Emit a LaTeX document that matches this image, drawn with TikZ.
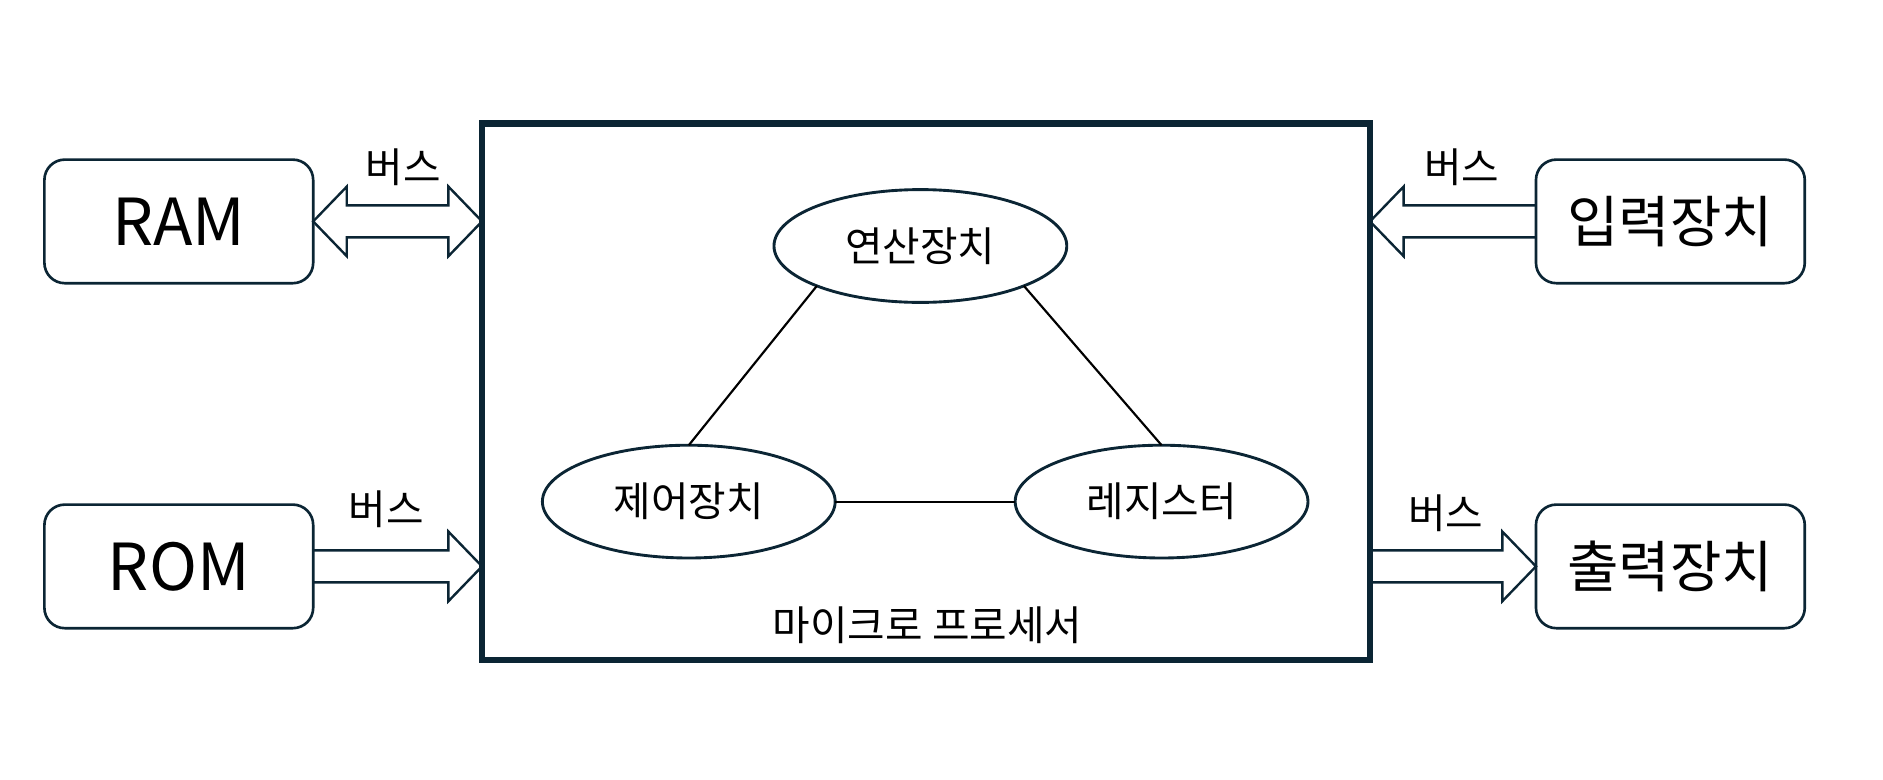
\documentclass[tikz,border=0pt]{standalone}
\usepackage{fontspec}
\setmainfont{Noto Sans CJK KR}
\usetikzlibrary{calc,shapes.geometric}
\definecolor{navy}{RGB}{11,37,52}
\begin{document}
\begin{tikzpicture}[x=0.5pt,y=-0.5pt,
  dev/.style={draw=navy,line width=1.1pt,rounded corners=8.5pt,minimum width=112pt,minimum height=51.5pt,inner sep=0pt,outer sep=0pt},
  latin/.style={font=\fontsize{27}{30}\selectfont},
  hangul/.style={font=\fontsize{23.3}{28}\selectfont},
  unit/.style={ellipse,draw=navy,line width=1.2pt,minimum width=122pt,minimum height=47pt,inner sep=0pt,outer sep=0pt,font=\fontsize{17}{20}\selectfont},
  mpbox/.style={draw=navy,line width=2.6pt,minimum width=370pt,minimum height=223.5pt,inner sep=0pt,outer sep=0pt},
  lbl/.style={inner sep=0pt,font=\fontsize{17}{20}\selectfont},
  busarrow/.style={draw=navy,line width=1pt,line join=miter},
  link/.style={draw=black,line width=0.9pt}]
\useasboundingbox (0,0) rectangle (1569.2,649.2);

% main box
\node[mpbox] (mp) at (771.7,326.5) {};
\node[lbl] (mplabel) at (773,521) {마이크로 프로세서};

% devices
\node[dev,latin] (ram) at (149,184.5) {RAM};
\node[dev,latin] (rom) at (149,472) {ROM};
\node[dev,hangul] (inp) at (1392,184.5) {입력장치};
\node[dev,hangul] (outp) at (1392,472) {출력장치};

% units
\node[unit] (alu) at (767,205) {연산장치};
\node[unit] (cu) at (574,418) {제어장치};
\node[unit] (reg) at (968,418) {레지스터};

\draw[link] (cu.north) -- (alu.south west);
\draw[link] (alu.south east) -- (reg.north);
\draw[link] (cu.east) -- (reg.west);

% bus labels
\node[lbl] (l1) at (336,139) {버스};
\node[lbl] (l2) at (322,424) {버스};
\node[lbl] (l3) at (1218,139) {버스};
\node[lbl] (l4) at (1205,428) {버스};

% RAM <-> MP double arrow
\draw[busarrow] let \p1=(ram.east), \p2=(mp.west) in
  (\x1,\y1) -- (\x1+14pt,\y1+14.5pt) -- (\x1+14pt,\y1+6.65pt) -- (\x2-14pt,\y1+6.65pt)
  -- (\x2-14pt,\y1+14.5pt) -- (\x2,\y1) -- (\x2-14pt,\y1-14.5pt) -- (\x2-14pt,\y1-6.65pt)
  -- (\x1+14pt,\y1-6.65pt) -- (\x1+14pt,\y1-14.5pt) -- cycle;

% ROM -> MP
\draw[busarrow] let \p1=(rom.east), \p2=(mp.west) in
  (\x1,\y1+6.65pt) -- (\x2-14pt,\y1+6.65pt) -- (\x2-14pt,\y1+14.5pt) -- (\x2,\y1)
  -- (\x2-14pt,\y1-14.5pt) -- (\x2-14pt,\y1-6.65pt) -- (\x1,\y1-6.65pt);

% input -> MP
\draw[busarrow] let \p1=(inp.west), \p2=(mp.east) in
  (\x1,\y1+6.65pt) -- (\x2+14pt,\y1+6.65pt) -- (\x2+14pt,\y1+14.5pt) -- (\x2,\y1)
  -- (\x2+14pt,\y1-14.5pt) -- (\x2+14pt,\y1-6.65pt) -- (\x1,\y1-6.65pt);

% MP -> output
\draw[busarrow] let \p1=(mp.east), \p2=(outp.west) in
  (\x1,\y2+6.65pt) -- (\x2-14pt,\y2+6.65pt) -- (\x2-14pt,\y2+14.5pt) -- (\x2,\y2)
  -- (\x2-14pt,\y2-14.5pt) -- (\x2-14pt,\y2-6.65pt) -- (\x1,\y2-6.65pt);
\end{tikzpicture}
\end{document}
